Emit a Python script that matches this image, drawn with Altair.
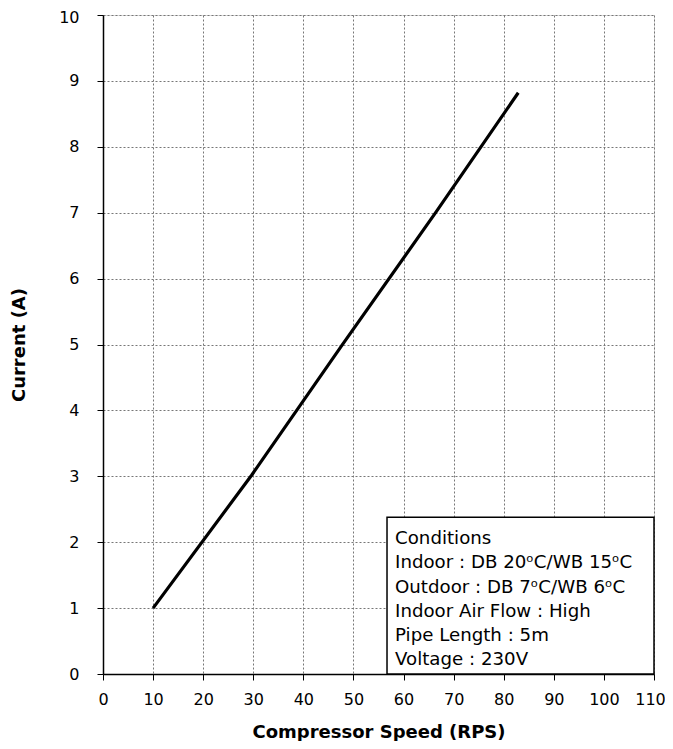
import altair as alt
import pandas as pd

# Data
speed = [10, 29.7, 47.9, 66.4, 82.9]
current = [1.0, 3.02, 5.01, 7.0, 8.82]

x_ticks = list(range(0, 111, 10))
y_ticks = list(range(0, 11, 1))

cond_lines = [
    "Conditions",
    "Indoor : DB 20ᵒC/WB 15ᵒC",
    "Outdoor : DB 7ᵒC/WB 6ᵒC",
    "Indoor Air Flow : High",
    "Pipe Length : 5m",
    "Voltage : 230V",
]

FONT = "DejaVu Sans"

df = pd.DataFrame({"speed": speed, "current": current})

xscale = alt.Scale(domain=[0, 110], nice=False, zero=False)
yscale = alt.Scale(domain=[0, 10], nice=False, zero=False)

x_axis = alt.Axis(
    values=x_ticks, format="d", title="Compressor Speed (RPS)", grid=True,
    gridColor="#777777", gridDash=[2, 2], gridWidth=1,
    domainColor="black", domainWidth=1.5, tickColor="black", tickSize=6,
    labelFont=FONT, labelFontSize=16, labelColor="black", labelPadding=11,
    labelOffset={"condition": {"test": "datum.value == 110", "value": -4}, "value": 0},
    titleFont=FONT, titleFontSize=18, titleFontWeight="bold", titleColor="black",
    titlePadding=16, labelFlush=False,
)
y_axis = alt.Axis(
    values=y_ticks, format="d", title="Current (A)", grid=True,
    gridColor="#777777", gridDash=[2, 2], gridWidth=1,
    domainColor="black", domainWidth=1.5, tickColor="black", tickSize=6,
    labelFont=FONT, labelFontSize=16, labelColor="black", labelPadding=18,
    labelOffset={"condition": {"test": "datum.value == 10", "value": 2}, "value": 0},
    titleFont=FONT, titleFontSize=18, titleFontWeight="bold", titleColor="black",
    titlePadding=30, labelFlush=False,
)

line = alt.Chart(df).mark_line(color="black", strokeWidth=3.2, clip=False).encode(
    x=alt.X("speed:Q", scale=xscale, axis=x_axis),
    y=alt.Y("current:Q", scale=yscale, axis=y_axis),
)

box_df = pd.DataFrame({"x": [56.7], "x2": [110], "y": [0], "y2": [2.38]})
box = alt.Chart(box_df).mark_rect(fill="white", stroke="black", strokeWidth=1.5).encode(
    x="x:Q", x2="x2:Q", y="y:Q", y2="y2:Q"
)

txt_df = pd.DataFrame({"x": [58.3], "y": [1.97], "t": ["\n".join(cond_lines)]})
txt = alt.Chart(txt_df).mark_text(
    align="left", baseline="alphabetic", lineBreak="\n", lineHeight=24.2,
    font=FONT, fontSize=18.2, color="black",
).encode(x="x:Q", y="y:Q", text="t:N")

chart = alt.layer(line, box, txt).properties(
    width=551, height=659,
    autosize=alt.AutoSizeParams(type="none"),
    padding={"left": 95, "top": 7, "right": 11, "bottom": 67},
).configure_view(stroke=None).configure(background="white")

chart.save("out.html", embed_options={"renderer": "svg", "actions": False})
